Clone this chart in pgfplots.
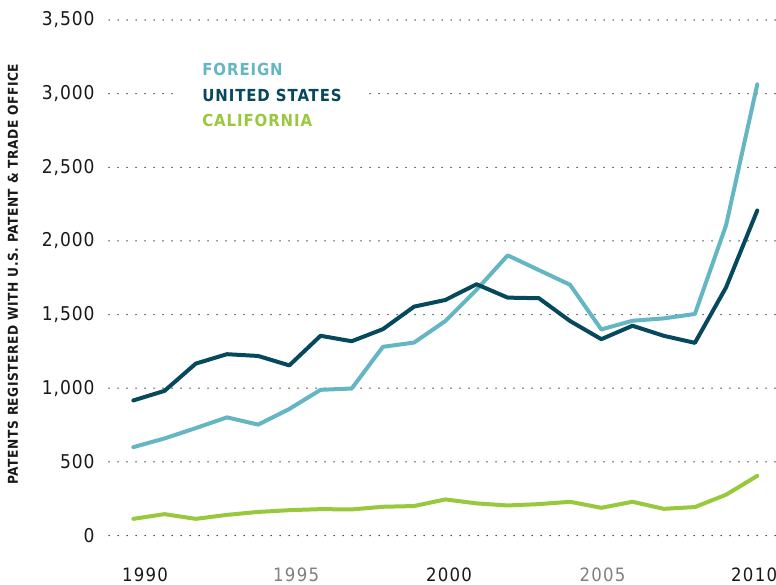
\documentclass[border=0pt]{standalone}
\usepackage{fontspec}
\setmainfont{DejaVu Sans Condensed}
\usepackage{pgfplots}
\pgfplotsset{compat=1.18}
\definecolor{foreign}{RGB}{100,182,194}
\definecolor{usa}{RGB}{6,72,92}
\definecolor{cal}{RGB}{152,201,60}
\definecolor{ink}{RGB}{25,25,25}
\definecolor{mute}{RGB}{128,128,128}

\pgfplotstableread{
year foreign usa cal
1990 600 917 113
1991 659 982 145
1992 729 1167 113
1993 802 1231 140
1994 753 1219 160
1995 859 1155 172
1996 989 1356 179
1997 998 1319 177
1998 1281 1401 195
1999 1310 1554 200
2000 1456 1599 245
2001 1668 1706 218
2002 1902 1615 204
2003 1802 1611 213
2004 1702 1456 229
2005 1399 1333 188
2006 1458 1424 229
2007 1474 1356 181
2008 1504 1308 193
2009 2107 1685 277
2010 3063 2207 405
}\datatable

\begin{document}
\begin{tikzpicture}
\useasboundingbox (0,0) rectangle (388pt,292pt);
\begin{axis}[
  at={(54.5pt,24.25pt)}, anchor=south west,
  scale only axis, width=333.5pt, height=257.75pt,
  xmin=1989.22, xmax=2010.6, ymin=0, ymax=3500,
  axis line style={draw=none},
  major tick length=0pt,
  ytick={0,500,...,3500},
  xtick={1990.375,1995.22,2000.12,2005.04,2009.9},
  xticklabels={1990, {\color{mute}1995}, 2000, {\color{mute}2005}, 2010},
  /pgf/number format/assume math mode=true,
  /pgf/number format/1000 sep={,},
  ymajorgrids,
  grid style={black!85, line width=0.75pt, dash pattern=on 0pt off 4.5pt, line cap=round},
  yticklabel style={anchor=east, inner sep=0pt, xshift=-7pt, text=ink,
    font=\fontsize{9.5}{10}\selectfont\addfontfeature{LetterSpace=5}},
  xticklabel style={anchor=north, inner sep=0pt, yshift=-16pt, text=ink,
    font=\fontsize{9.2}{10}\selectfont\addfontfeature{LetterSpace=7}},
  every axis y label/.style={at={(axis description cs:-0.144,0.507)}, rotate=90, anchor=center,
    font=\bfseries\fontsize{6.8}{8}\selectfont\addfontfeature{LetterSpace=4}, text=ink},
  ylabel={PATENTS REGISTERED WITH U.S. PATENT \& TRADE OFFICE},
  legend image code/.code={},
  legend cell align=left,
  legend style={at={(axis description cs:0.1064,0.924)}, anchor=north west,
    fill=white, draw=none, inner xsep=11pt, inner ysep=2pt,
    row sep=6.5pt,
    font=\bfseries\fontsize{8.3}{9}\selectfont\addfontfeature{LetterSpace=5.5},
    nodes={inner sep=0pt, text height=6.2pt, text depth=0pt}},
  every axis plot/.append style={line width=2pt, line join=round, line cap=round},
]
\addplot[foreign] table[x=year, y=foreign] {\datatable};
\addlegendentry{\color{foreign}FOREIGN}
\addplot[usa] table[x=year, y=usa] {\datatable};
\addlegendentry{\color{usa}UNITED STATES}
\addplot[cal] table[x=year, y=cal] {\datatable};
\addlegendentry{\color{cal}CALIFORNIA}
\end{axis}
\end{tikzpicture}
\end{document}
